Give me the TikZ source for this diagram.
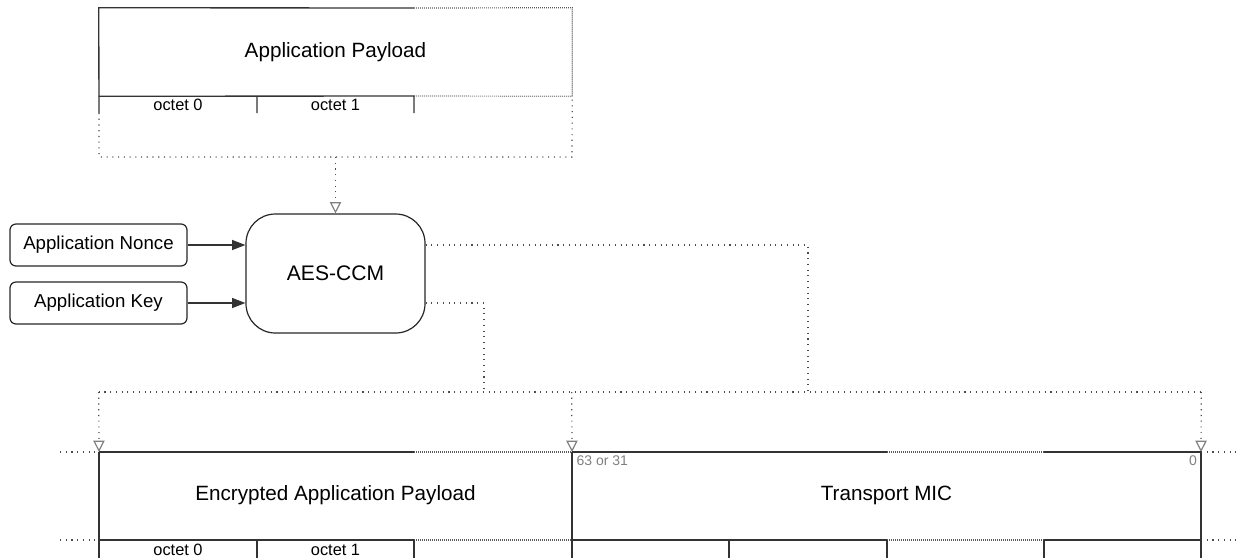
\documentclass[tikz,border=0pt]{standalone}
\usepackage{fontspec}
\setmainfont{Liberation Sans}
\usetikzlibrary{arrows.meta, positioning}

\tikzset{
  keybox/.style={draw=black!85, line width=0.9pt, rounded corners=4.5pt, minimum width=132.75pt, minimum height=31.5pt, inner sep=0pt, font=\fontsize{14}{16}\selectfont},
  field/.style={inner sep=0pt, font=\fontsize{15.5}{18}\selectfont},
  octet/.style={inner sep=0pt, font=\fontsize{12.3}{14}\selectfont},
  bitno/.style={inner sep=0pt, text=black!50, font=\fontsize{10.5}{12}\selectfont},
  wire/.style={draw=black!80, line width=1pt},
  link/.style={draw=black!70, line width=0.9pt, dash pattern=on 0.8pt off 3.5pt},
  fine/.style={draw=black!65, line width=0.9pt, dash pattern=on 0.6pt off 0.9pt},
  drop/.style={link, -{Triangle[open, length=8.5pt, width=8.5pt, color=black!50]}},
  feed/.style={wire, -{Triangle[length=10pt, width=7.5pt]}}
}

\begin{document}
\begin{tikzpicture}[x=0.75pt, y=-0.75pt]
        \useasboundingbox (0,0) rectangle (1241,558);
        % plaintext
        \node[field, minimum width=354.75pt, minimum height=66pt] (pay) at (335.5,52) {Application Payload};
        \node[octet] (p0) at (178,105) {octet 0};
        \node[octet] (p1) at (335.5,105) {octet 1};
        \draw[wire] (99,113) -- (pay.north west) -- (414,8);
        \draw[fine] (414,8) -- (pay.north east) -- (pay.south east) -- (414,96);
        \draw[wire] (257,113) -- (257,96) (414,113) -- (414,96) -- (pay.south west);
        \draw[link] (99,113) -- (99,157) -- (572,157) -- (pay.south east);
        \coordinate (low) at (335.5,157);

        % cipher
        \node[draw=black!85, line width=0.9pt, rounded corners=22pt, minimum width=134.25pt, minimum height=89.25pt, font=\fontsize{15.8}{18}\selectfont] (aes) at (335.5,273.5) {AES-CCM};
        \node[keybox] (nonce) at (98.5,245) {Application Nonce};
        \node[keybox] (key) at (98.5,303) {Application Key};
        \draw[feed] (nonce.east) -- (nonce.east -| aes.west);
        \draw[feed] (key.east) -- (key.east -| aes.west);
        \draw[drop] (low) -- (aes.north);

        % output
        \node[field, minimum width=354.75pt, minimum height=66pt] (enc) at (335.5,495) {Encrypted Application Payload};
        \node[field, minimum width=471.75pt, minimum height=66pt] (mic) at (886.5,495) {Transport MIC};
        \node[bitno, anchor=north west] (hi) at ([xshift=3.5pt, yshift=-3.5pt]mic.north west) {63 or 31};
        \node[bitno, anchor=north east] (lo) at ([xshift=-3pt, yshift=-3.5pt]mic.north east) {0};
        \node[octet] (e0) at (178,550) {octet 0};
        \node[octet] (e1) at (335.5,550) {octet 1};

        \coordinate (bus) at (0,392);
        \coordinate (j1) at (808,392);
        \coordinate (j2) at (484,392);
        \draw[link] (aes.east |- nonce.east) -| (j1);
        \draw[link] (aes.east |- key.east) -| (j2);
        \draw[link] (enc.north west |- bus) -- (mic.north east |- bus);
        \draw[drop] (enc.north west |- bus) -- (99,452);
        \draw[drop] (mic.north west |- bus) -- (572,452);
        \draw[drop] (mic.north east |- bus) -- (1201,452);

        \draw[link] (60,452) -- (99,452) (60,540) -- (99,540);
        \draw[link] (1201,452) -- (1241,452) (1201,540) -- (1241,540);
        \draw[wire] (99,452) -- (414,452) (99,540) -- (414,540);
        \draw[fine] (414,452) -- (572,452) (414,540) -- (572,540);
        \draw[wire] (572,452) -- (887,452) (572,540) -- (887,540);
        \draw[fine] (887,452) -- (1044,452) (887,540) -- (1044,540);
        \draw[wire] (1044,452) -- (1201,452) (1044,540) -- (1201,540);
        \draw[wire] (99,452) -- (99,558) (572,452) -- (572,558) (1201,452) -- (1201,558);
        \foreach \x in {257,414,729,887,1044}
          \draw[wire] (\x,540) -- (\x,558);
      \end{tikzpicture}
\end{document}
